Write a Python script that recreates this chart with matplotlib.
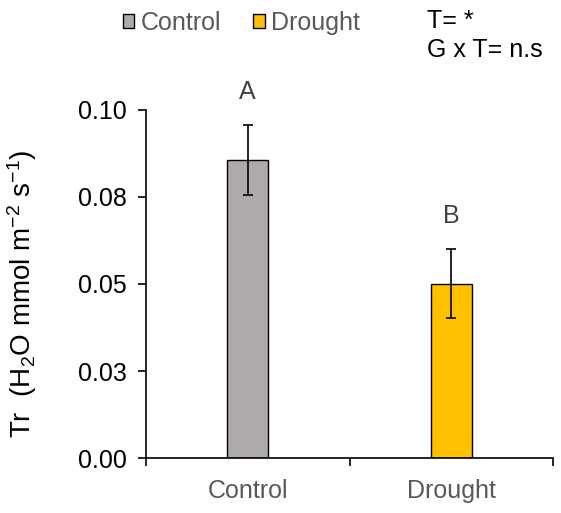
import matplotlib.pyplot as plt
from matplotlib.patches import Patch
from matplotlib.ticker import FixedLocator

plt.rcParams['font.family'] = ['Liberation Sans', 'DejaVu Sans']
plt.rcParams['mathtext.fontset'] = 'custom'
plt.rcParams['mathtext.rm'] = 'Liberation Sans'
plt.rcParams['mathtext.it'] = 'Liberation Sans'

# data
treatments = ['Control', 'Drought']
tr_mean = [0.0856, 0.0500]
tr_err = [0.0100, 0.0099]
letters = ['A', 'B']
colors = ['#AEAAAA', '#FFC000']
yticks = [0.0, 0.025, 0.05, 0.075, 0.10]
ytick_labels = ['0.00', '0.03', '0.05', '0.08', '0.10']

FS = 18

fig = plt.figure(figsize=(5.61, 5.13), dpi=100)
ax = fig.add_axes([0.260, 0.107, 0.726, 0.679])

x = range(len(treatments))
ax.bar(x, tr_mean, width=0.2, color=colors, edgecolor='black', linewidth=1.0, zorder=2)
ax.errorbar(x, tr_mean, yerr=tr_err, fmt='none', ecolor='black', elinewidth=1.2,
            capsize=3.3, capthick=1.2, zorder=3)

for xi, m, e, lab in zip(x, tr_mean, tr_err, letters):
    ax.text(xi, m + e + 0.0095, lab, ha='center', va='center', fontsize=FS, color='#404040')

ax.set_xlim(-0.5, 1.5)
ax.set_ylim(0, 0.10)
ax.set_xticks(list(x))
ax.set_xticklabels(treatments, fontsize=FS, color='#595959')
ax.tick_params(axis='x', which='major', length=0, pad=15)
ax.xaxis.set_minor_locator(FixedLocator([-0.5, 0.5, 1.5]))
ax.tick_params(axis='x', which='minor', length=6, width=1.2, direction='out')

ax.set_yticks(yticks)
ax.set_yticklabels(ytick_labels, fontsize=FS)
ax.tick_params(axis='y', length=6, width=1.2, direction='out', pad=8)

for side in ['top', 'right']:
    ax.spines[side].set_visible(False)
for side in ['left', 'bottom']:
    ax.spines[side].set_linewidth(1.2)

ax.set_ylabel(r'Tr  (H$_2$O mmol m$^{-2}$ s$^{-1}$)', fontsize=20)
ax.yaxis.set_label_coords(-0.262, 0.47)

handles = [Patch(facecolor=c, edgecolor='black', linewidth=1.0) for c in colors]
fig.legend(handles, treatments, loc='center', bbox_to_anchor=(0.43, 0.955), ncol=2,
           frameon=False, fontsize=FS, handlelength=0.45, handleheight=0.45,
           handletextpad=0.25, columnspacing=1.3, labelcolor='#595959')

fig.text(0.762, 0.96, 'T= *', fontsize=FS, ha='left', va='center')
fig.text(0.762, 0.902, 'G x T= n.s', fontsize=FS, ha='left', va='center')

fig.savefig('out.png', dpi=100)
